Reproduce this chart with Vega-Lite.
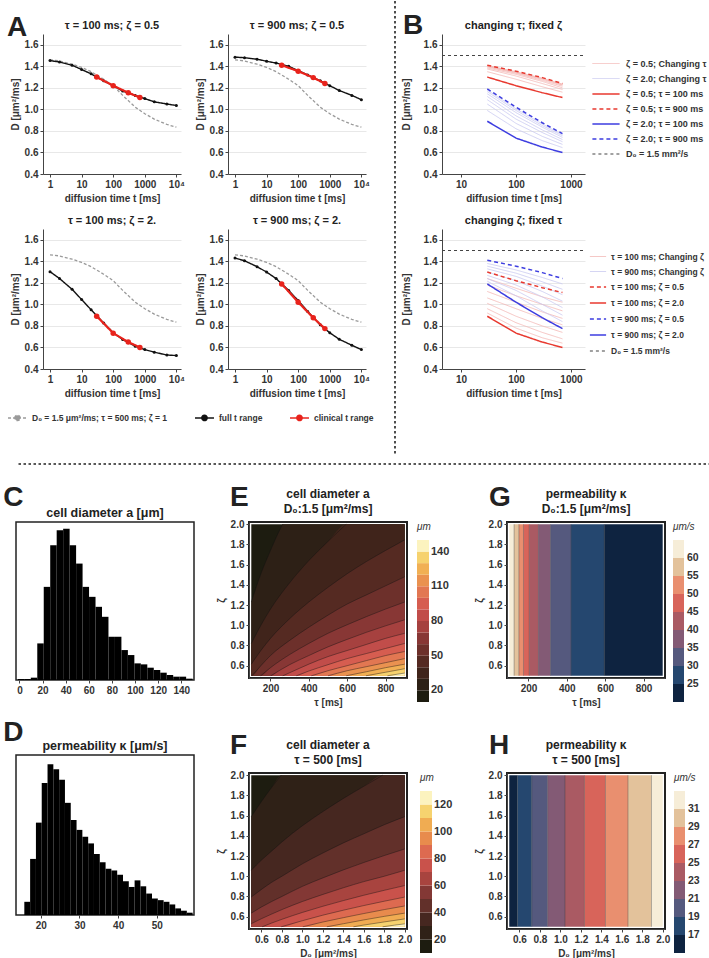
{
  "$schema": "https://vega.github.io/schema/vega-lite/v6.json",
  "background": "white",
  "padding": {"left": 3, "top": 0, "right": 0, "bottom": 0},
  "config": {
    "font": "Liberation Sans",
    "view": {"stroke": null},
    "axis": {"labelFont": "Liberation Sans", "labelFontWeight": "bold", "labelFontSize": 10, "labelColor": "#333", "titleFont": "Liberation Sans", "titleFontWeight": "bold", "titleFontSize": 10, "titleColor": "#333", "domainColor": "#444", "tickColor": "#444", "tickSize": 3, "labelPadding": 2, "titlePadding": 4, "grid": false, "labelFlush": false, "labelOverlap": false},
    "title": {"font": "Liberation Sans", "fontSize": 11, "fontWeight": "bold", "color": "#222", "offset": 3},
    "legend": {"labelFont": "Liberation Sans", "labelFontWeight": "bold", "labelColor": "#333", "titleFont": "Liberation Sans", "titleColor": "#333"}
  },
  "datasets": {
    "one": [{}],
    "aRef": [
      {"s": "D₀ = 1.5 μm²/ms; τ = 500 ms; ζ = 1", "t": 1, "D": 1.46}, {"s": "D₀ = 1.5 μm²/ms; τ = 500 ms; ζ = 1", "t": 2, "D": 1.45},
      {"s": "D₀ = 1.5 μm²/ms; τ = 500 ms; ζ = 1", "t": 5, "D": 1.42}, {"s": "D₀ = 1.5 μm²/ms; τ = 500 ms; ζ = 1", "t": 10, "D": 1.39},
      {"s": "D₀ = 1.5 μm²/ms; τ = 500 ms; ζ = 1", "t": 20, "D": 1.35}, {"s": "D₀ = 1.5 μm²/ms; τ = 500 ms; ζ = 1", "t": 50, "D": 1.28},
      {"s": "D₀ = 1.5 μm²/ms; τ = 500 ms; ζ = 1", "t": 100, "D": 1.22}, {"s": "D₀ = 1.5 μm²/ms; τ = 500 ms; ζ = 1", "t": 200, "D": 1.13},
      {"s": "D₀ = 1.5 μm²/ms; τ = 500 ms; ζ = 1", "t": 500, "D": 1.02}, {"s": "D₀ = 1.5 μm²/ms; τ = 500 ms; ζ = 1", "t": 1000, "D": 0.96},
      {"s": "D₀ = 1.5 μm²/ms; τ = 500 ms; ζ = 1", "t": 2000, "D": 0.91}, {"s": "D₀ = 1.5 μm²/ms; τ = 500 ms; ζ = 1", "t": 5000, "D": 0.86},
      {"s": "D₀ = 1.5 μm²/ms; τ = 500 ms; ζ = 1", "t": 10000, "D": 0.835}
    ],
    "aCurves": [
      {"p": "A1", "s": "full t range", "t": 1, "D": 1.453}, {"p": "A1", "s": "full t range", "t": 2, "D": 1.44}, {"p": "A1", "s": "full t range", "t": 5, "D": 1.41}, {"p": "A1", "s": "full t range", "t": 10, "D": 1.37}, {"p": "A1", "s": "full t range", "t": 20, "D": 1.33}, {"p": "A1", "s": "full t range", "t": 50, "D": 1.265}, {"p": "A1", "s": "full t range", "t": 100, "D": 1.22}, {"p": "A1", "s": "full t range", "t": 200, "D": 1.17}, {"p": "A1", "s": "full t range", "t": 500, "D": 1.13}, {"p": "A1", "s": "full t range", "t": 1000, "D": 1.1}, {"p": "A1", "s": "full t range", "t": 2000, "D": 1.07}, {"p": "A1", "s": "full t range", "t": 5000, "D": 1.05}, {"p": "A1", "s": "full t range", "t": 10000, "D": 1.036},
      {"p": "A1", "s": "clinical t range", "t": 30, "D": 1.3}, {"p": "A1", "s": "clinical t range", "t": 100, "D": 1.22}, {"p": "A1", "s": "clinical t range", "t": 300, "D": 1.155}, {"p": "A1", "s": "clinical t range", "t": 700, "D": 1.11},
      {"p": "A2", "s": "full t range", "t": 1, "D": 1.485}, {"p": "A2", "s": "full t range", "t": 2, "D": 1.48}, {"p": "A2", "s": "full t range", "t": 5, "D": 1.466}, {"p": "A2", "s": "full t range", "t": 10, "D": 1.447}, {"p": "A2", "s": "full t range", "t": 20, "D": 1.43}, {"p": "A2", "s": "full t range", "t": 50, "D": 1.4}, {"p": "A2", "s": "full t range", "t": 100, "D": 1.36}, {"p": "A2", "s": "full t range", "t": 200, "D": 1.32}, {"p": "A2", "s": "full t range", "t": 500, "D": 1.265}, {"p": "A2", "s": "full t range", "t": 1000, "D": 1.22}, {"p": "A2", "s": "full t range", "t": 2000, "D": 1.175}, {"p": "A2", "s": "full t range", "t": 5000, "D": 1.13}, {"p": "A2", "s": "full t range", "t": 10000, "D": 1.09},
      {"p": "A2", "s": "clinical t range", "t": 30, "D": 1.41}, {"p": "A2", "s": "clinical t range", "t": 100, "D": 1.355}, {"p": "A2", "s": "clinical t range", "t": 300, "D": 1.295}, {"p": "A2", "s": "clinical t range", "t": 700, "D": 1.24},
      {"p": "A3", "s": "full t range", "t": 1, "D": 1.304}, {"p": "A3", "s": "full t range", "t": 2, "D": 1.24}, {"p": "A3", "s": "full t range", "t": 5, "D": 1.14}, {"p": "A3", "s": "full t range", "t": 10, "D": 1.045}, {"p": "A3", "s": "full t range", "t": 20, "D": 0.95}, {"p": "A3", "s": "full t range", "t": 50, "D": 0.827}, {"p": "A3", "s": "full t range", "t": 100, "D": 0.737}, {"p": "A3", "s": "full t range", "t": 200, "D": 0.674}, {"p": "A3", "s": "full t range", "t": 500, "D": 0.612}, {"p": "A3", "s": "full t range", "t": 1000, "D": 0.58}, {"p": "A3", "s": "full t range", "t": 2000, "D": 0.556}, {"p": "A3", "s": "full t range", "t": 5000, "D": 0.53}, {"p": "A3", "s": "full t range", "t": 10000, "D": 0.525},
      {"p": "A3", "s": "clinical t range", "t": 30, "D": 0.89}, {"p": "A3", "s": "clinical t range", "t": 100, "D": 0.733}, {"p": "A3", "s": "clinical t range", "t": 300, "D": 0.65}, {"p": "A3", "s": "clinical t range", "t": 700, "D": 0.6},
      {"p": "A4", "s": "full t range", "t": 1, "D": 1.43}, {"p": "A4", "s": "full t range", "t": 2, "D": 1.405}, {"p": "A4", "s": "full t range", "t": 5, "D": 1.35}, {"p": "A4", "s": "full t range", "t": 10, "D": 1.3}, {"p": "A4", "s": "full t range", "t": 20, "D": 1.24}, {"p": "A4", "s": "full t range", "t": 50, "D": 1.13}, {"p": "A4", "s": "full t range", "t": 100, "D": 1.035}, {"p": "A4", "s": "full t range", "t": 200, "D": 0.934}, {"p": "A4", "s": "full t range", "t": 500, "D": 0.81}, {"p": "A4", "s": "full t range", "t": 1000, "D": 0.736}, {"p": "A4", "s": "full t range", "t": 2000, "D": 0.676}, {"p": "A4", "s": "full t range", "t": 5000, "D": 0.62}, {"p": "A4", "s": "full t range", "t": 10000, "D": 0.58},
      {"p": "A4", "s": "clinical t range", "t": 30, "D": 1.19}, {"p": "A4", "s": "clinical t range", "t": 100, "D": 1.02}, {"p": "A4", "s": "clinical t range", "t": 300, "D": 0.876}, {"p": "A4", "s": "clinical t range", "t": 700, "D": 0.775}
    ],
    "bLines": [
      {"p": "B1", "s": "ζ = 0.5; Changing τ", "id": "200", "t": 30, "D": 1.35}, {"p": "B1", "s": "ζ = 0.5; Changing τ", "id": "200", "t": 100, "D": 1.28}, {"p": "B1", "s": "ζ = 0.5; Changing τ", "id": "200", "t": 300, "D": 1.21}, {"p": "B1", "s": "ζ = 0.5; Changing τ", "id": "200", "t": 700, "D": 1.16},
      {"p": "B1", "s": "ζ = 0.5; Changing τ", "id": "300", "t": 30, "D": 1.375}, {"p": "B1", "s": "ζ = 0.5; Changing τ", "id": "300", "t": 100, "D": 1.31}, {"p": "B1", "s": "ζ = 0.5; Changing τ", "id": "300", "t": 300, "D": 1.24}, {"p": "B1", "s": "ζ = 0.5; Changing τ", "id": "300", "t": 700, "D": 1.185},
      {"p": "B1", "s": "ζ = 0.5; Changing τ", "id": "400", "t": 30, "D": 1.385}, {"p": "B1", "s": "ζ = 0.5; Changing τ", "id": "400", "t": 100, "D": 1.325}, {"p": "B1", "s": "ζ = 0.5; Changing τ", "id": "400", "t": 300, "D": 1.26}, {"p": "B1", "s": "ζ = 0.5; Changing τ", "id": "400", "t": 700, "D": 1.2},
      {"p": "B1", "s": "ζ = 0.5; Changing τ", "id": "500", "t": 30, "D": 1.395}, {"p": "B1", "s": "ζ = 0.5; Changing τ", "id": "500", "t": 100, "D": 1.335}, {"p": "B1", "s": "ζ = 0.5; Changing τ", "id": "500", "t": 300, "D": 1.27}, {"p": "B1", "s": "ζ = 0.5; Changing τ", "id": "500", "t": 700, "D": 1.215},
      {"p": "B1", "s": "ζ = 0.5; Changing τ", "id": "600", "t": 30, "D": 1.4}, {"p": "B1", "s": "ζ = 0.5; Changing τ", "id": "600", "t": 100, "D": 1.34}, {"p": "B1", "s": "ζ = 0.5; Changing τ", "id": "600", "t": 300, "D": 1.28}, {"p": "B1", "s": "ζ = 0.5; Changing τ", "id": "600", "t": 700, "D": 1.225},
      {"p": "B1", "s": "ζ = 0.5; Changing τ", "id": "700", "t": 30, "D": 1.405}, {"p": "B1", "s": "ζ = 0.5; Changing τ", "id": "700", "t": 100, "D": 1.345}, {"p": "B1", "s": "ζ = 0.5; Changing τ", "id": "700", "t": 300, "D": 1.285}, {"p": "B1", "s": "ζ = 0.5; Changing τ", "id": "700", "t": 700, "D": 1.23},
      {"p": "B1", "s": "ζ = 0.5; Changing τ", "id": "800", "t": 30, "D": 1.408}, {"p": "B1", "s": "ζ = 0.5; Changing τ", "id": "800", "t": 100, "D": 1.35}, {"p": "B1", "s": "ζ = 0.5; Changing τ", "id": "800", "t": 300, "D": 1.29}, {"p": "B1", "s": "ζ = 0.5; Changing τ", "id": "800", "t": 700, "D": 1.235},
      {"p": "B1", "s": "ζ = 2.0; Changing τ", "id": "200", "t": 30, "D": 0.99}, {"p": "B1", "s": "ζ = 2.0; Changing τ", "id": "200", "t": 100, "D": 0.82}, {"p": "B1", "s": "ζ = 2.0; Changing τ", "id": "200", "t": 300, "D": 0.71}, {"p": "B1", "s": "ζ = 2.0; Changing τ", "id": "200", "t": 700, "D": 0.645},
      {"p": "B1", "s": "ζ = 2.0; Changing τ", "id": "300", "t": 30, "D": 1.05}, {"p": "B1", "s": "ζ = 2.0; Changing τ", "id": "300", "t": 100, "D": 0.87}, {"p": "B1", "s": "ζ = 2.0; Changing τ", "id": "300", "t": 300, "D": 0.75}, {"p": "B1", "s": "ζ = 2.0; Changing τ", "id": "300", "t": 700, "D": 0.675},
      {"p": "B1", "s": "ζ = 2.0; Changing τ", "id": "400", "t": 30, "D": 1.09}, {"p": "B1", "s": "ζ = 2.0; Changing τ", "id": "400", "t": 100, "D": 0.91}, {"p": "B1", "s": "ζ = 2.0; Changing τ", "id": "400", "t": 300, "D": 0.785}, {"p": "B1", "s": "ζ = 2.0; Changing τ", "id": "400", "t": 700, "D": 0.7},
      {"p": "B1", "s": "ζ = 2.0; Changing τ", "id": "500", "t": 30, "D": 1.12}, {"p": "B1", "s": "ζ = 2.0; Changing τ", "id": "500", "t": 100, "D": 0.94}, {"p": "B1", "s": "ζ = 2.0; Changing τ", "id": "500", "t": 300, "D": 0.81}, {"p": "B1", "s": "ζ = 2.0; Changing τ", "id": "500", "t": 700, "D": 0.72},
      {"p": "B1", "s": "ζ = 2.0; Changing τ", "id": "600", "t": 30, "D": 1.145}, {"p": "B1", "s": "ζ = 2.0; Changing τ", "id": "600", "t": 100, "D": 0.97}, {"p": "B1", "s": "ζ = 2.0; Changing τ", "id": "600", "t": 300, "D": 0.835}, {"p": "B1", "s": "ζ = 2.0; Changing τ", "id": "600", "t": 700, "D": 0.74},
      {"p": "B1", "s": "ζ = 2.0; Changing τ", "id": "700", "t": 30, "D": 1.165}, {"p": "B1", "s": "ζ = 2.0; Changing τ", "id": "700", "t": 100, "D": 0.99}, {"p": "B1", "s": "ζ = 2.0; Changing τ", "id": "700", "t": 300, "D": 0.85}, {"p": "B1", "s": "ζ = 2.0; Changing τ", "id": "700", "t": 700, "D": 0.755},
      {"p": "B1", "s": "ζ = 2.0; Changing τ", "id": "800", "t": 30, "D": 1.18}, {"p": "B1", "s": "ζ = 2.0; Changing τ", "id": "800", "t": 100, "D": 1.005}, {"p": "B1", "s": "ζ = 2.0; Changing τ", "id": "800", "t": 300, "D": 0.865}, {"p": "B1", "s": "ζ = 2.0; Changing τ", "id": "800", "t": 700, "D": 0.765},
      {"p": "B1", "s": "ζ = 0.5; τ = 100 ms", "id": "m", "t": 30, "D": 1.3}, {"p": "B1", "s": "ζ = 0.5; τ = 100 ms", "id": "m", "t": 100, "D": 1.22}, {"p": "B1", "s": "ζ = 0.5; τ = 100 ms", "id": "m", "t": 300, "D": 1.155}, {"p": "B1", "s": "ζ = 0.5; τ = 100 ms", "id": "m", "t": 700, "D": 1.11},
      {"p": "B1", "s": "ζ = 0.5; τ = 900 ms", "id": "m", "t": 30, "D": 1.41}, {"p": "B1", "s": "ζ = 0.5; τ = 900 ms", "id": "m", "t": 100, "D": 1.355}, {"p": "B1", "s": "ζ = 0.5; τ = 900 ms", "id": "m", "t": 300, "D": 1.295}, {"p": "B1", "s": "ζ = 0.5; τ = 900 ms", "id": "m", "t": 700, "D": 1.24},
      {"p": "B1", "s": "ζ = 2.0; τ = 100 ms", "id": "m", "t": 30, "D": 0.89}, {"p": "B1", "s": "ζ = 2.0; τ = 100 ms", "id": "m", "t": 100, "D": 0.733}, {"p": "B1", "s": "ζ = 2.0; τ = 100 ms", "id": "m", "t": 300, "D": 0.65}, {"p": "B1", "s": "ζ = 2.0; τ = 100 ms", "id": "m", "t": 700, "D": 0.6},
      {"p": "B1", "s": "ζ = 2.0; τ = 900 ms", "id": "m", "t": 30, "D": 1.19}, {"p": "B1", "s": "ζ = 2.0; τ = 900 ms", "id": "m", "t": 100, "D": 1.02}, {"p": "B1", "s": "ζ = 2.0; τ = 900 ms", "id": "m", "t": 300, "D": 0.876}, {"p": "B1", "s": "ζ = 2.0; τ = 900 ms", "id": "m", "t": 700, "D": 0.775},
      {"p": "B1", "s": "D₀ = 1.5 mm²/s", "id": "d", "t": 4.5, "D": 1.5}, {"p": "B1", "s": "D₀ = 1.5 mm²/s", "id": "d", "t": 1800, "D": 1.5},
      {"p": "B2", "s": "τ = 100 ms; Changing ζ", "id": "1", "t": 30, "D": 1.24}, {"p": "B2", "s": "τ = 100 ms; Changing ζ", "id": "1", "t": 100, "D": 1.15}, {"p": "B2", "s": "τ = 100 ms; Changing ζ", "id": "1", "t": 300, "D": 1.07}, {"p": "B2", "s": "τ = 100 ms; Changing ζ", "id": "1", "t": 700, "D": 1.02},
      {"p": "B2", "s": "τ = 100 ms; Changing ζ", "id": "2", "t": 30, "D": 1.18}, {"p": "B2", "s": "τ = 100 ms; Changing ζ", "id": "2", "t": 100, "D": 1.08}, {"p": "B2", "s": "τ = 100 ms; Changing ζ", "id": "2", "t": 300, "D": 1.0}, {"p": "B2", "s": "τ = 100 ms; Changing ζ", "id": "2", "t": 700, "D": 0.94},
      {"p": "B2", "s": "τ = 100 ms; Changing ζ", "id": "3", "t": 30, "D": 1.12}, {"p": "B2", "s": "τ = 100 ms; Changing ζ", "id": "3", "t": 100, "D": 1.02}, {"p": "B2", "s": "τ = 100 ms; Changing ζ", "id": "3", "t": 300, "D": 0.93}, {"p": "B2", "s": "τ = 100 ms; Changing ζ", "id": "3", "t": 700, "D": 0.87},
      {"p": "B2", "s": "τ = 100 ms; Changing ζ", "id": "4", "t": 30, "D": 1.06}, {"p": "B2", "s": "τ = 100 ms; Changing ζ", "id": "4", "t": 100, "D": 0.96}, {"p": "B2", "s": "τ = 100 ms; Changing ζ", "id": "4", "t": 300, "D": 0.87}, {"p": "B2", "s": "τ = 100 ms; Changing ζ", "id": "4", "t": 700, "D": 0.81},
      {"p": "B2", "s": "τ = 100 ms; Changing ζ", "id": "5", "t": 30, "D": 1.01}, {"p": "B2", "s": "τ = 100 ms; Changing ζ", "id": "5", "t": 100, "D": 0.89}, {"p": "B2", "s": "τ = 100 ms; Changing ζ", "id": "5", "t": 300, "D": 0.8}, {"p": "B2", "s": "τ = 100 ms; Changing ζ", "id": "5", "t": 700, "D": 0.74},
      {"p": "B2", "s": "τ = 100 ms; Changing ζ", "id": "6", "t": 30, "D": 0.96}, {"p": "B2", "s": "τ = 100 ms; Changing ζ", "id": "6", "t": 100, "D": 0.83}, {"p": "B2", "s": "τ = 100 ms; Changing ζ", "id": "6", "t": 300, "D": 0.74}, {"p": "B2", "s": "τ = 100 ms; Changing ζ", "id": "6", "t": 700, "D": 0.68},
      {"p": "B2", "s": "τ = 100 ms; Changing ζ", "id": "7", "t": 30, "D": 0.92}, {"p": "B2", "s": "τ = 100 ms; Changing ζ", "id": "7", "t": 100, "D": 0.78}, {"p": "B2", "s": "τ = 100 ms; Changing ζ", "id": "7", "t": 300, "D": 0.69}, {"p": "B2", "s": "τ = 100 ms; Changing ζ", "id": "7", "t": 700, "D": 0.64},
      {"p": "B2", "s": "τ = 900 ms; Changing ζ", "id": "1", "t": 30, "D": 1.38}, {"p": "B2", "s": "τ = 900 ms; Changing ζ", "id": "1", "t": 100, "D": 1.32}, {"p": "B2", "s": "τ = 900 ms; Changing ζ", "id": "1", "t": 300, "D": 1.25}, {"p": "B2", "s": "τ = 900 ms; Changing ζ", "id": "1", "t": 700, "D": 1.19},
      {"p": "B2", "s": "τ = 900 ms; Changing ζ", "id": "2", "t": 30, "D": 1.355}, {"p": "B2", "s": "τ = 900 ms; Changing ζ", "id": "2", "t": 100, "D": 1.29}, {"p": "B2", "s": "τ = 900 ms; Changing ζ", "id": "2", "t": 300, "D": 1.21}, {"p": "B2", "s": "τ = 900 ms; Changing ζ", "id": "2", "t": 700, "D": 1.14},
      {"p": "B2", "s": "τ = 900 ms; Changing ζ", "id": "3", "t": 30, "D": 1.33}, {"p": "B2", "s": "τ = 900 ms; Changing ζ", "id": "3", "t": 100, "D": 1.26}, {"p": "B2", "s": "τ = 900 ms; Changing ζ", "id": "3", "t": 300, "D": 1.17}, {"p": "B2", "s": "τ = 900 ms; Changing ζ", "id": "3", "t": 700, "D": 1.09},
      {"p": "B2", "s": "τ = 900 ms; Changing ζ", "id": "4", "t": 30, "D": 1.3}, {"p": "B2", "s": "τ = 900 ms; Changing ζ", "id": "4", "t": 100, "D": 1.22}, {"p": "B2", "s": "τ = 900 ms; Changing ζ", "id": "4", "t": 300, "D": 1.12}, {"p": "B2", "s": "τ = 900 ms; Changing ζ", "id": "4", "t": 700, "D": 1.03},
      {"p": "B2", "s": "τ = 900 ms; Changing ζ", "id": "5", "t": 30, "D": 1.27}, {"p": "B2", "s": "τ = 900 ms; Changing ζ", "id": "5", "t": 100, "D": 1.18}, {"p": "B2", "s": "τ = 900 ms; Changing ζ", "id": "5", "t": 300, "D": 1.07}, {"p": "B2", "s": "τ = 900 ms; Changing ζ", "id": "5", "t": 700, "D": 0.97},
      {"p": "B2", "s": "τ = 900 ms; Changing ζ", "id": "6", "t": 30, "D": 1.24}, {"p": "B2", "s": "τ = 900 ms; Changing ζ", "id": "6", "t": 100, "D": 1.13}, {"p": "B2", "s": "τ = 900 ms; Changing ζ", "id": "6", "t": 300, "D": 1.0}, {"p": "B2", "s": "τ = 900 ms; Changing ζ", "id": "6", "t": 700, "D": 0.9},
      {"p": "B2", "s": "τ = 900 ms; Changing ζ", "id": "7", "t": 30, "D": 1.215}, {"p": "B2", "s": "τ = 900 ms; Changing ζ", "id": "7", "t": 100, "D": 1.08}, {"p": "B2", "s": "τ = 900 ms; Changing ζ", "id": "7", "t": 300, "D": 0.94}, {"p": "B2", "s": "τ = 900 ms; Changing ζ", "id": "7", "t": 700, "D": 0.84},
      {"p": "B2", "s": "τ = 100 ms;  ζ = 0.5", "id": "m", "t": 30, "D": 1.3}, {"p": "B2", "s": "τ = 100 ms;  ζ = 0.5", "id": "m", "t": 100, "D": 1.22}, {"p": "B2", "s": "τ = 100 ms;  ζ = 0.5", "id": "m", "t": 300, "D": 1.155}, {"p": "B2", "s": "τ = 100 ms;  ζ = 0.5", "id": "m", "t": 700, "D": 1.11},
      {"p": "B2", "s": "τ = 100 ms;  ζ = 2.0", "id": "m", "t": 30, "D": 0.89}, {"p": "B2", "s": "τ = 100 ms;  ζ = 2.0", "id": "m", "t": 100, "D": 0.733}, {"p": "B2", "s": "τ = 100 ms;  ζ = 2.0", "id": "m", "t": 300, "D": 0.65}, {"p": "B2", "s": "τ = 100 ms;  ζ = 2.0", "id": "m", "t": 700, "D": 0.6},
      {"p": "B2", "s": "τ = 900 ms;  ζ = 0.5", "id": "m", "t": 30, "D": 1.41}, {"p": "B2", "s": "τ = 900 ms;  ζ = 0.5", "id": "m", "t": 100, "D": 1.355}, {"p": "B2", "s": "τ = 900 ms;  ζ = 0.5", "id": "m", "t": 300, "D": 1.295}, {"p": "B2", "s": "τ = 900 ms;  ζ = 0.5", "id": "m", "t": 700, "D": 1.24},
      {"p": "B2", "s": "τ = 900 ms;  ζ = 2.0", "id": "m", "t": 30, "D": 1.19}, {"p": "B2", "s": "τ = 900 ms;  ζ = 2.0", "id": "m", "t": 100, "D": 1.02}, {"p": "B2", "s": "τ = 900 ms;  ζ = 2.0", "id": "m", "t": 300, "D": 0.876}, {"p": "B2", "s": "τ = 900 ms;  ζ = 2.0", "id": "m", "t": 700, "D": 0.775},
      {"p": "B2", "s": "D₀ = 1.5 mm²/s", "id": "d", "t": 4.5, "D": 1.5}, {"p": "B2", "s": "D₀ = 1.5 mm²/s", "id": "d", "t": 1800, "D": 1.5}
    ],
    "hC": [
      {"x0": -1.4, "x1": 4.2, "n": 3}, {"x0": 4.2, "x1": 9.8, "n": 3}, {"x0": 9.8, "x1": 15.4, "n": 7}, {"x0": 15.4, "x1": 21, "n": 110}, {"x0": 21, "x1": 26.6, "n": 280}, {"x0": 26.6, "x1": 32.2, "n": 405}, {"x0": 32.2, "x1": 37.8, "n": 450}, {"x0": 37.8, "x1": 43.4, "n": 455}, {"x0": 43.4, "x1": 49, "n": 405}, {"x0": 49, "x1": 54.6, "n": 350}, {"x0": 54.6, "x1": 60.2, "n": 280}, {"x0": 60.2, "x1": 65.8, "n": 250}, {"x0": 65.8, "x1": 71.4, "n": 220}, {"x0": 71.4, "x1": 77, "n": 190}, {"x0": 77, "x1": 82.6, "n": 130}, {"x0": 82.6, "x1": 88.2, "n": 130}, {"x0": 88.2, "x1": 93.8, "n": 90}, {"x0": 93.8, "x1": 99.4, "n": 75}, {"x0": 99.4, "x1": 105, "n": 50}, {"x0": 105, "x1": 110.6, "n": 47}, {"x0": 110.6, "x1": 116.2, "n": 37}, {"x0": 116.2, "x1": 121.8, "n": 30}, {"x0": 121.8, "x1": 127.4, "n": 22}, {"x0": 127.4, "x1": 133, "n": 15}, {"x0": 133, "x1": 138.6, "n": 10}, {"x0": 138.6, "x1": 144.2, "n": 10}, {"x0": 144.2, "x1": 149.8, "n": 4}
    ],
    "hD": [
      {"x0": 15.75, "x1": 17.25, "n": 40}, {"x0": 17.25, "x1": 18.75, "n": 170}, {"x0": 18.75, "x1": 20.25, "n": 280}, {"x0": 20.25, "x1": 21.75, "n": 400}, {"x0": 21.75, "x1": 23.25, "n": 457}, {"x0": 23.25, "x1": 24.75, "n": 442}, {"x0": 24.75, "x1": 26.25, "n": 410}, {"x0": 26.25, "x1": 27.75, "n": 340}, {"x0": 27.75, "x1": 29.25, "n": 288}, {"x0": 29.25, "x1": 30.75, "n": 258}, {"x0": 30.75, "x1": 32.25, "n": 237}, {"x0": 32.25, "x1": 33.75, "n": 217}, {"x0": 33.75, "x1": 35.25, "n": 185}, {"x0": 35.25, "x1": 36.75, "n": 160}, {"x0": 36.75, "x1": 38.25, "n": 140}, {"x0": 38.25, "x1": 39.75, "n": 135}, {"x0": 39.75, "x1": 41.25, "n": 122}, {"x0": 41.25, "x1": 42.75, "n": 102}, {"x0": 42.75, "x1": 44.25, "n": 85}, {"x0": 44.25, "x1": 45.75, "n": 105}, {"x0": 45.75, "x1": 47.25, "n": 87}, {"x0": 47.25, "x1": 48.75, "n": 65}, {"x0": 48.75, "x1": 50.25, "n": 50}, {"x0": 50.25, "x1": 51.75, "n": 45}, {"x0": 51.75, "x1": 53.25, "n": 40}, {"x0": 53.25, "x1": 54.75, "n": 32}, {"x0": 54.75, "x1": 56.25, "n": 20}, {"x0": 56.25, "x1": 57.75, "n": 13}, {"x0": 57.75, "x1": 59.25, "n": 7}
    ],
    "cE": [
      {"lvl": 15, "x": 100, "z": 2.0, "k": "p"}, {"lvl": 15, "x": 900, "z": 2.0, "k": "p"},
      {"lvl": 25, "x": 100, "z": 1.23, "k": "c"}, {"lvl": 25, "x": 150, "z": 1.51, "k": "c"}, {"lvl": 25, "x": 200, "z": 1.74, "k": "c"}, {"lvl": 25, "x": 250, "z": 1.95, "k": "c"}, {"lvl": 25, "x": 264, "z": 2.0, "k": "c"}, {"lvl": 25, "x": 900, "z": 2.0, "k": "p"},
      {"lvl": 35, "x": 100, "z": 0.82, "k": "c"}, {"lvl": 35, "x": 150, "z": 1.0, "k": "c"}, {"lvl": 35, "x": 200, "z": 1.16, "k": "c"}, {"lvl": 35, "x": 300, "z": 1.42, "k": "c"}, {"lvl": 35, "x": 400, "z": 1.64, "k": "c"}, {"lvl": 35, "x": 500, "z": 1.83, "k": "c"}, {"lvl": 35, "x": 595, "z": 2.0, "k": "c"}, {"lvl": 35, "x": 900, "z": 2.0, "k": "p"},
      {"lvl": 45, "x": 100, "z": 0.615, "k": "c"}, {"lvl": 45, "x": 150, "z": 0.75, "k": "c"}, {"lvl": 45, "x": 200, "z": 0.87, "k": "c"}, {"lvl": 45, "x": 300, "z": 1.065, "k": "c"}, {"lvl": 45, "x": 400, "z": 1.23, "k": "c"}, {"lvl": 45, "x": 500, "z": 1.375, "k": "c"}, {"lvl": 45, "x": 600, "z": 1.51, "k": "c"}, {"lvl": 45, "x": 700, "z": 1.63, "k": "c"}, {"lvl": 45, "x": 800, "z": 1.74, "k": "c"}, {"lvl": 45, "x": 900, "z": 1.845, "k": "c"},
      {"lvl": 55, "x": 100, "z": 0.5, "k": "p"}, {"lvl": 55, "x": 103, "z": 0.5, "k": "c"}, {"lvl": 55, "x": 150, "z": 0.6, "k": "c"}, {"lvl": 55, "x": 200, "z": 0.7, "k": "c"}, {"lvl": 55, "x": 300, "z": 0.85, "k": "c"}, {"lvl": 55, "x": 400, "z": 0.98, "k": "c"}, {"lvl": 55, "x": 500, "z": 1.1, "k": "c"}, {"lvl": 55, "x": 600, "z": 1.21, "k": "c"}, {"lvl": 55, "x": 700, "z": 1.3, "k": "c"}, {"lvl": 55, "x": 800, "z": 1.39, "k": "c"}, {"lvl": 55, "x": 900, "z": 1.48, "k": "c"},
      {"lvl": 65, "x": 100, "z": 0.5, "k": "p"}, {"lvl": 65, "x": 149, "z": 0.5, "k": "c"}, {"lvl": 65, "x": 200, "z": 0.58, "k": "c"}, {"lvl": 65, "x": 300, "z": 0.71, "k": "c"}, {"lvl": 65, "x": 400, "z": 0.82, "k": "c"}, {"lvl": 65, "x": 500, "z": 0.92, "k": "c"}, {"lvl": 65, "x": 600, "z": 1.005, "k": "c"}, {"lvl": 65, "x": 700, "z": 1.085, "k": "c"}, {"lvl": 65, "x": 800, "z": 1.16, "k": "c"}, {"lvl": 65, "x": 900, "z": 1.23, "k": "c"},
      {"lvl": 75, "x": 100, "z": 0.5, "k": "p"}, {"lvl": 75, "x": 202, "z": 0.5, "k": "c"}, {"lvl": 75, "x": 250, "z": 0.556, "k": "c"}, {"lvl": 75, "x": 300, "z": 0.61, "k": "c"}, {"lvl": 75, "x": 400, "z": 0.7, "k": "c"}, {"lvl": 75, "x": 500, "z": 0.786, "k": "c"}, {"lvl": 75, "x": 600, "z": 0.86, "k": "c"}, {"lvl": 75, "x": 700, "z": 0.93, "k": "c"}, {"lvl": 75, "x": 800, "z": 0.994, "k": "c"}, {"lvl": 75, "x": 900, "z": 1.054, "k": "c"},
      {"lvl": 85, "x": 100, "z": 0.5, "k": "p"}, {"lvl": 85, "x": 264, "z": 0.5, "k": "c"}, {"lvl": 85, "x": 300, "z": 0.53, "k": "c"}, {"lvl": 85, "x": 400, "z": 0.615, "k": "c"}, {"lvl": 85, "x": 500, "z": 0.69, "k": "c"}, {"lvl": 85, "x": 600, "z": 0.75, "k": "c"}, {"lvl": 85, "x": 700, "z": 0.81, "k": "c"}, {"lvl": 85, "x": 800, "z": 0.87, "k": "c"}, {"lvl": 85, "x": 900, "z": 0.92, "k": "c"},
      {"lvl": 95, "x": 100, "z": 0.5, "k": "p"}, {"lvl": 95, "x": 335, "z": 0.5, "k": "c"}, {"lvl": 95, "x": 400, "z": 0.547, "k": "c"}, {"lvl": 95, "x": 500, "z": 0.61, "k": "c"}, {"lvl": 95, "x": 600, "z": 0.67, "k": "c"}, {"lvl": 95, "x": 700, "z": 0.72, "k": "c"}, {"lvl": 95, "x": 800, "z": 0.77, "k": "c"}, {"lvl": 95, "x": 900, "z": 0.82, "k": "c"},
      {"lvl": 105, "x": 100, "z": 0.5, "k": "p"}, {"lvl": 105, "x": 413, "z": 0.5, "k": "c"}, {"lvl": 105, "x": 500, "z": 0.55, "k": "c"}, {"lvl": 105, "x": 600, "z": 0.6, "k": "c"}, {"lvl": 105, "x": 700, "z": 0.65, "k": "c"}, {"lvl": 105, "x": 800, "z": 0.7, "k": "c"}, {"lvl": 105, "x": 900, "z": 0.74, "k": "c"},
      {"lvl": 115, "x": 100, "z": 0.5, "k": "p"}, {"lvl": 115, "x": 500, "z": 0.5, "k": "c"}, {"lvl": 115, "x": 600, "z": 0.55, "k": "c"}, {"lvl": 115, "x": 700, "z": 0.59, "k": "c"}, {"lvl": 115, "x": 800, "z": 0.63, "k": "c"}, {"lvl": 115, "x": 900, "z": 0.67, "k": "c"},
      {"lvl": 125, "x": 100, "z": 0.5, "k": "p"}, {"lvl": 125, "x": 595, "z": 0.5, "k": "c"}, {"lvl": 125, "x": 700, "z": 0.54, "k": "c"}, {"lvl": 125, "x": 800, "z": 0.58, "k": "c"}, {"lvl": 125, "x": 900, "z": 0.615, "k": "c"},
      {"lvl": 135, "x": 100, "z": 0.5, "k": "p"}, {"lvl": 135, "x": 698, "z": 0.5, "k": "c"}, {"lvl": 135, "x": 800, "z": 0.535, "k": "c"}, {"lvl": 135, "x": 900, "z": 0.57, "k": "c"},
      {"lvl": 145, "x": 100, "z": 0.5, "k": "p"}, {"lvl": 145, "x": 810, "z": 0.5, "k": "c"}, {"lvl": 145, "x": 860, "z": 0.515, "k": "c"}, {"lvl": 145, "x": 900, "z": 0.527, "k": "c"}
    ],
    "cF": [
      {"lvl": 15, "x": 0.5, "z": 2.0, "k": "p"}, {"lvl": 15, "x": 2.0, "z": 2.0, "k": "p"},
      {"lvl": 25, "x": 0.5, "z": 1.59, "k": "c"}, {"lvl": 25, "x": 0.6, "z": 1.74, "k": "c"}, {"lvl": 25, "x": 0.7, "z": 1.88, "k": "c"}, {"lvl": 25, "x": 0.793, "z": 2.0, "k": "c"}, {"lvl": 25, "x": 2.0, "z": 2.0, "k": "p"},
      {"lvl": 35, "x": 0.5, "z": 1.06, "k": "c"}, {"lvl": 35, "x": 0.6, "z": 1.16, "k": "c"}, {"lvl": 35, "x": 0.7, "z": 1.25, "k": "c"}, {"lvl": 35, "x": 0.8, "z": 1.34, "k": "c"}, {"lvl": 35, "x": 1.0, "z": 1.5, "k": "c"}, {"lvl": 35, "x": 1.2, "z": 1.64, "k": "c"}, {"lvl": 35, "x": 1.4, "z": 1.77, "k": "c"}, {"lvl": 35, "x": 1.6, "z": 1.89, "k": "c"}, {"lvl": 35, "x": 1.784, "z": 2.0, "k": "c"}, {"lvl": 35, "x": 2.0, "z": 2.0, "k": "p"},
      {"lvl": 45, "x": 0.5, "z": 0.794, "k": "c"}, {"lvl": 45, "x": 0.6, "z": 0.87, "k": "c"}, {"lvl": 45, "x": 0.7, "z": 0.94, "k": "c"}, {"lvl": 45, "x": 0.8, "z": 1.0, "k": "c"}, {"lvl": 45, "x": 1.0, "z": 1.123, "k": "c"}, {"lvl": 45, "x": 1.2, "z": 1.23, "k": "c"}, {"lvl": 45, "x": 1.4, "z": 1.33, "k": "c"}, {"lvl": 45, "x": 1.6, "z": 1.42, "k": "c"}, {"lvl": 45, "x": 1.8, "z": 1.51, "k": "c"}, {"lvl": 45, "x": 2.0, "z": 1.59, "k": "c"},
      {"lvl": 55, "x": 0.5, "z": 0.635, "k": "c"}, {"lvl": 55, "x": 0.6, "z": 0.696, "k": "c"}, {"lvl": 55, "x": 0.7, "z": 0.75, "k": "c"}, {"lvl": 55, "x": 0.8, "z": 0.8, "k": "c"}, {"lvl": 55, "x": 1.0, "z": 0.9, "k": "c"}, {"lvl": 55, "x": 1.2, "z": 0.984, "k": "c"}, {"lvl": 55, "x": 1.4, "z": 1.063, "k": "c"}, {"lvl": 55, "x": 1.6, "z": 1.136, "k": "c"}, {"lvl": 55, "x": 1.8, "z": 1.205, "k": "c"}, {"lvl": 55, "x": 2.0, "z": 1.27, "k": "c"},
      {"lvl": 65, "x": 0.5, "z": 0.53, "k": "c"}, {"lvl": 65, "x": 0.6, "z": 0.58, "k": "c"}, {"lvl": 65, "x": 0.7, "z": 0.626, "k": "c"}, {"lvl": 65, "x": 0.8, "z": 0.67, "k": "c"}, {"lvl": 65, "x": 1.0, "z": 0.75, "k": "c"}, {"lvl": 65, "x": 1.2, "z": 0.82, "k": "c"}, {"lvl": 65, "x": 1.4, "z": 0.886, "k": "c"}, {"lvl": 65, "x": 1.6, "z": 0.947, "k": "c"}, {"lvl": 65, "x": 1.8, "z": 1.0, "k": "c"}, {"lvl": 65, "x": 2.0, "z": 1.059, "k": "c"},
      {"lvl": 75, "x": 0.5, "z": 0.5, "k": "p"}, {"lvl": 75, "x": 0.607, "z": 0.5, "k": "c"}, {"lvl": 75, "x": 0.7, "z": 0.537, "k": "c"}, {"lvl": 75, "x": 0.8, "z": 0.574, "k": "c"}, {"lvl": 75, "x": 1.0, "z": 0.642, "k": "c"}, {"lvl": 75, "x": 1.2, "z": 0.703, "k": "c"}, {"lvl": 75, "x": 1.4, "z": 0.759, "k": "c"}, {"lvl": 75, "x": 1.6, "z": 0.812, "k": "c"}, {"lvl": 75, "x": 1.8, "z": 0.861, "k": "c"}, {"lvl": 75, "x": 2.0, "z": 0.908, "k": "c"},
      {"lvl": 85, "x": 0.5, "z": 0.5, "k": "p"}, {"lvl": 85, "x": 0.793, "z": 0.5, "k": "c"}, {"lvl": 85, "x": 1.0, "z": 0.56, "k": "c"}, {"lvl": 85, "x": 1.2, "z": 0.615, "k": "c"}, {"lvl": 85, "x": 1.4, "z": 0.664, "k": "c"}, {"lvl": 85, "x": 1.6, "z": 0.71, "k": "c"}, {"lvl": 85, "x": 1.8, "z": 0.753, "k": "c"}, {"lvl": 85, "x": 2.0, "z": 0.794, "k": "c"},
      {"lvl": 95, "x": 0.5, "z": 0.5, "k": "p"}, {"lvl": 95, "x": 1.004, "z": 0.5, "k": "c"}, {"lvl": 95, "x": 1.2, "z": 0.547, "k": "c"}, {"lvl": 95, "x": 1.4, "z": 0.59, "k": "c"}, {"lvl": 95, "x": 1.6, "z": 0.631, "k": "c"}, {"lvl": 95, "x": 1.8, "z": 0.67, "k": "c"}, {"lvl": 95, "x": 2.0, "z": 0.706, "k": "c"},
      {"lvl": 105, "x": 0.5, "z": 0.5, "k": "p"}, {"lvl": 105, "x": 1.239, "z": 0.5, "k": "c"}, {"lvl": 105, "x": 1.4, "z": 0.53, "k": "c"}, {"lvl": 105, "x": 1.6, "z": 0.568, "k": "c"}, {"lvl": 105, "x": 1.8, "z": 0.603, "k": "c"}, {"lvl": 105, "x": 2.0, "z": 0.635, "k": "c"},
      {"lvl": 115, "x": 0.5, "z": 0.5, "k": "p"}, {"lvl": 115, "x": 1.499, "z": 0.5, "k": "c"}, {"lvl": 115, "x": 1.6, "z": 0.517, "k": "c"}, {"lvl": 115, "x": 1.8, "z": 0.548, "k": "c"}, {"lvl": 115, "x": 2.0, "z": 0.578, "k": "c"},
      {"lvl": 125, "x": 0.5, "z": 0.5, "k": "p"}, {"lvl": 125, "x": 1.784, "z": 0.5, "k": "c"}, {"lvl": 125, "x": 1.9, "z": 0.516, "k": "c"}, {"lvl": 125, "x": 2.0, "z": 0.529, "k": "c"}
    ],
    "bandG": [
      {"x0": 100, "x1": 125, "k": 62.5}, {"x0": 125, "x1": 150, "k": 57.5}, {"x0": 150, "x1": 174, "k": 52.5}, {"x0": 174, "x1": 204, "k": 47.5}, {"x0": 204, "x1": 252, "k": 42.5}, {"x0": 252, "x1": 315, "k": 37.5}, {"x0": 315, "x1": 422, "k": 32.5}, {"x0": 422, "x1": 595, "k": 27.5}, {"x0": 595, "x1": 900, "k": 22.5}
    ],
    "bandH": [
      {"x0": 0.5, "x1": 0.58, "k": 16}, {"x0": 0.58, "x1": 0.72, "k": 18}, {"x0": 0.72, "x1": 0.875, "k": 20}, {"x0": 0.875, "x1": 1.045, "k": 22}, {"x0": 1.045, "x1": 1.235, "k": 24}, {"x0": 1.235, "x1": 1.44, "k": 26}, {"x0": 1.44, "x1": 1.66, "k": 28}, {"x0": 1.66, "x1": 1.89, "k": 30}, {"x0": 1.89, "x1": 2.0, "k": 32}
    ]
  },
  "resolve": {"scale": {"color": "independent", "fill": "independent", "stroke": "independent", "strokeDash": "independent", "strokeWidth": "independent"}, "legend": {"color": "independent", "fill": "independent", "stroke": "independent", "strokeDash": "independent", "strokeWidth": "independent"}},
  "spacing": 3,
  "vconcat": [
    {
      "spacing": -10,
      "resolve": {"scale": {"color": "independent", "fill": "independent", "stroke": "independent", "strokeDash": "independent", "strokeWidth": "independent"}, "legend": {"color": "independent", "fill": "independent", "stroke": "independent", "strokeDash": "independent", "strokeWidth": "independent"}},
      "hconcat": [
        {
          "width": 1, "height": 1,
          "data": {"name": "one"},
          "mark": {"type": "text"},
          "encoding": {"text": {"value": ""}}
        },
        {
          "title": {"text": "A", "anchor": "start", "fontSize": 28, "offset": -22, "color": "#222"},
          "spacing": 12,
          "vconcat": [
            {
              "spacing": 10,
              "hconcat": [
                {
                  "width": 138, "height": 140,
                  "title": {"text": "τ = 100 ms;  ζ = 0.5"},
                  "layer": [
                    {"data": {"name": "aRef"}, "mark": {"type": "line", "strokeWidth": 1.3},
                     "encoding": {
                       "x": {"field": "t", "type": "quantitative", "scale": {"type": "log", "domain": [0.6, 14000], "nice": false}, "axis": {"values": [1, 10, 100, 1000, 10000], "tickCount": 20, "labelExpr": "datum.value >= 10000 ? '10⁴' : format(datum.value, 'd')", "title": "diffusion time t [ms]"}},
                       "y": {"field": "D", "type": "quantitative", "scale": {"domain": [0.4, 1.7], "nice": false, "zero": false}, "axis": {"values": [0.4, 0.6, 0.8, 1.0, 1.2, 1.4, 1.6], "tickCount": 20, "format": ".1f", "title": "D [μm²/ms]", "grid": true, "gridColor": "#e8e8e8"}},
                       "stroke": {"field": "s", "type": "nominal", "scale": {"domain": ["D₀ = 1.5 μm²/ms; τ = 500 ms; ζ = 1", "full t range", "clinical t range"], "range": ["#9a9a9a", "#111111", "#e8231c"]}, "legend": {"title": null, "orient": "none", "legendX": -36, "legendY": 373, "direction": "horizontal", "symbolType": "M-1,0L1,0M-0.28,0A0.28,0.28,0,1,1,0.28,0A0.28,0.28,0,1,1,-0.28,0", "symbolSize": 360, "labelFontSize": 8.5, "columnPadding": 24}},
                       "strokeDash": {"field": "s", "type": "nominal", "scale": {"domain": ["D₀ = 1.5 μm²/ms; τ = 500 ms; ζ = 1", "full t range", "clinical t range"], "range": [[3, 2], [1, 0], [1, 0]]}, "legend": {"title": null, "orient": "none", "legendX": -36, "legendY": 373, "direction": "horizontal", "symbolType": "M-1,0L1,0M-0.28,0A0.28,0.28,0,1,1,0.28,0A0.28,0.28,0,1,1,-0.28,0", "symbolSize": 360, "labelFontSize": 8.5, "columnPadding": 24}}
                     }},
                    {"data": {"name": "aCurves"}, "transform": [{"filter": "datum.p == 'A1' && datum.s == 'full t range'"}], "mark": {"type": "line", "strokeWidth": 1.4},
                     "encoding": {"x": {"field": "t", "type": "quantitative"}, "y": {"field": "D", "type": "quantitative"}, "stroke": {"field": "s", "type": "nominal"}, "strokeDash": {"field": "s", "type": "nominal"}}},
                    {"data": {"name": "aCurves"}, "transform": [{"filter": "datum.p == 'A1' && datum.s == 'full t range'"}], "mark": {"type": "point", "filled": true, "size": 9, "opacity": 1},
                     "encoding": {"x": {"field": "t", "type": "quantitative"}, "y": {"field": "D", "type": "quantitative"}, "fill": {"field": "s", "type": "nominal", "scale": {"domain": ["D₀ = 1.5 μm²/ms; τ = 500 ms; ζ = 1", "full t range", "clinical t range"], "range": ["#9a9a9a", "#111111", "#e8231c"]}, "legend": {"title": null, "orient": "none", "legendX": -36, "legendY": 373, "direction": "horizontal", "symbolType": "M-1,0L1,0M-0.28,0A0.28,0.28,0,1,1,0.28,0A0.28,0.28,0,1,1,-0.28,0", "symbolSize": 360, "labelFontSize": 8.5, "columnPadding": 24}}}},
                    {"data": {"name": "aCurves"}, "transform": [{"filter": "datum.p == 'A1' && datum.s == 'clinical t range'"}], "mark": {"type": "line", "strokeWidth": 2.2},
                     "encoding": {"x": {"field": "t", "type": "quantitative"}, "y": {"field": "D", "type": "quantitative"}, "stroke": {"field": "s", "type": "nominal"}, "strokeDash": {"field": "s", "type": "nominal"}}},
                    {"data": {"name": "aCurves"}, "transform": [{"filter": "datum.p == 'A1' && datum.s == 'clinical t range'"}], "mark": {"type": "point", "filled": true, "size": 30, "opacity": 1},
                     "encoding": {"x": {"field": "t", "type": "quantitative"}, "y": {"field": "D", "type": "quantitative"}, "fill": {"field": "s", "type": "nominal"}}}
                  ]
                },
                {
                  "width": 138, "height": 140,
                  "title": {"text": "τ = 900 ms;  ζ = 0.5"},
                  "layer": [
                    {"data": {"name": "aRef"}, "mark": {"type": "line", "strokeWidth": 1.3},
                     "encoding": {
                       "x": {"field": "t", "type": "quantitative", "scale": {"type": "log", "domain": [0.6, 14000], "nice": false}, "axis": {"values": [1, 10, 100, 1000, 10000], "tickCount": 20, "labelExpr": "datum.value >= 10000 ? '10⁴' : format(datum.value, 'd')", "title": "diffusion time t [ms]"}},
                       "y": {"field": "D", "type": "quantitative", "scale": {"domain": [0.4, 1.7], "nice": false, "zero": false}, "axis": {"values": [0.4, 0.6, 0.8, 1.0, 1.2, 1.4, 1.6], "tickCount": 20, "format": ".1f", "title": "D [μm²/ms]", "grid": true, "gridColor": "#e8e8e8"}},
                       "stroke": {"field": "s", "type": "nominal"}, "strokeDash": {"field": "s", "type": "nominal"}
                     }},
                    {"data": {"name": "aCurves"}, "transform": [{"filter": "datum.p == 'A2' && datum.s == 'full t range'"}], "mark": {"type": "line", "strokeWidth": 1.4},
                     "encoding": {"x": {"field": "t", "type": "quantitative"}, "y": {"field": "D", "type": "quantitative"}, "stroke": {"field": "s", "type": "nominal"}, "strokeDash": {"field": "s", "type": "nominal"}}},
                    {"data": {"name": "aCurves"}, "transform": [{"filter": "datum.p == 'A2' && datum.s == 'full t range'"}], "mark": {"type": "point", "filled": true, "size": 9, "opacity": 1},
                     "encoding": {"x": {"field": "t", "type": "quantitative"}, "y": {"field": "D", "type": "quantitative"}, "fill": {"field": "s", "type": "nominal"}}},
                    {"data": {"name": "aCurves"}, "transform": [{"filter": "datum.p == 'A2' && datum.s == 'clinical t range'"}], "mark": {"type": "line", "strokeWidth": 2.2},
                     "encoding": {"x": {"field": "t", "type": "quantitative"}, "y": {"field": "D", "type": "quantitative"}, "stroke": {"field": "s", "type": "nominal"}, "strokeDash": {"field": "s", "type": "nominal"}}},
                    {"data": {"name": "aCurves"}, "transform": [{"filter": "datum.p == 'A2' && datum.s == 'clinical t range'"}], "mark": {"type": "point", "filled": true, "size": 30, "opacity": 1},
                     "encoding": {"x": {"field": "t", "type": "quantitative"}, "y": {"field": "D", "type": "quantitative"}, "fill": {"field": "s", "type": "nominal"}}}
                  ]
                }
              ]
            },
            {
              "spacing": 10,
              "hconcat": [
                {
                  "width": 138, "height": 140,
                  "title": {"text": "τ = 100 ms;  ζ = 2."},
                  "layer": [
                    {"data": {"name": "aRef"}, "mark": {"type": "line", "strokeWidth": 1.3},
                     "encoding": {
                       "x": {"field": "t", "type": "quantitative", "scale": {"type": "log", "domain": [0.6, 14000], "nice": false}, "axis": {"values": [1, 10, 100, 1000, 10000], "tickCount": 20, "labelExpr": "datum.value >= 10000 ? '10⁴' : format(datum.value, 'd')", "title": "diffusion time t [ms]"}},
                       "y": {"field": "D", "type": "quantitative", "scale": {"domain": [0.4, 1.7], "nice": false, "zero": false}, "axis": {"values": [0.4, 0.6, 0.8, 1.0, 1.2, 1.4, 1.6], "tickCount": 20, "format": ".1f", "title": "D [μm²/ms]", "grid": true, "gridColor": "#e8e8e8"}},
                       "stroke": {"field": "s", "type": "nominal"}, "strokeDash": {"field": "s", "type": "nominal"}
                     }},
                    {"data": {"name": "aCurves"}, "transform": [{"filter": "datum.p == 'A3' && datum.s == 'full t range'"}], "mark": {"type": "line", "strokeWidth": 1.4},
                     "encoding": {"x": {"field": "t", "type": "quantitative"}, "y": {"field": "D", "type": "quantitative"}, "stroke": {"field": "s", "type": "nominal"}, "strokeDash": {"field": "s", "type": "nominal"}}},
                    {"data": {"name": "aCurves"}, "transform": [{"filter": "datum.p == 'A3' && datum.s == 'full t range'"}], "mark": {"type": "point", "filled": true, "size": 9, "opacity": 1},
                     "encoding": {"x": {"field": "t", "type": "quantitative"}, "y": {"field": "D", "type": "quantitative"}, "fill": {"field": "s", "type": "nominal"}}},
                    {"data": {"name": "aCurves"}, "transform": [{"filter": "datum.p == 'A3' && datum.s == 'clinical t range'"}], "mark": {"type": "line", "strokeWidth": 2.2},
                     "encoding": {"x": {"field": "t", "type": "quantitative"}, "y": {"field": "D", "type": "quantitative"}, "stroke": {"field": "s", "type": "nominal"}, "strokeDash": {"field": "s", "type": "nominal"}}},
                    {"data": {"name": "aCurves"}, "transform": [{"filter": "datum.p == 'A3' && datum.s == 'clinical t range'"}], "mark": {"type": "point", "filled": true, "size": 30, "opacity": 1},
                     "encoding": {"x": {"field": "t", "type": "quantitative"}, "y": {"field": "D", "type": "quantitative"}, "fill": {"field": "s", "type": "nominal"}}}
                  ]
                },
                {
                  "width": 138, "height": 140,
                  "title": {"text": "τ = 900 ms;  ζ = 2."},
                  "layer": [
                    {"data": {"name": "aRef"}, "mark": {"type": "line", "strokeWidth": 1.3},
                     "encoding": {
                       "x": {"field": "t", "type": "quantitative", "scale": {"type": "log", "domain": [0.6, 14000], "nice": false}, "axis": {"values": [1, 10, 100, 1000, 10000], "tickCount": 20, "labelExpr": "datum.value >= 10000 ? '10⁴' : format(datum.value, 'd')", "title": "diffusion time t [ms]"}},
                       "y": {"field": "D", "type": "quantitative", "scale": {"domain": [0.4, 1.7], "nice": false, "zero": false}, "axis": {"values": [0.4, 0.6, 0.8, 1.0, 1.2, 1.4, 1.6], "tickCount": 20, "format": ".1f", "title": "D [μm²/ms]", "grid": true, "gridColor": "#e8e8e8"}},
                       "stroke": {"field": "s", "type": "nominal"}, "strokeDash": {"field": "s", "type": "nominal"}
                     }},
                    {"data": {"name": "aCurves"}, "transform": [{"filter": "datum.p == 'A4' && datum.s == 'full t range'"}], "mark": {"type": "line", "strokeWidth": 1.4},
                     "encoding": {"x": {"field": "t", "type": "quantitative"}, "y": {"field": "D", "type": "quantitative"}, "stroke": {"field": "s", "type": "nominal"}, "strokeDash": {"field": "s", "type": "nominal"}}},
                    {"data": {"name": "aCurves"}, "transform": [{"filter": "datum.p == 'A4' && datum.s == 'full t range'"}], "mark": {"type": "point", "filled": true, "size": 9, "opacity": 1},
                     "encoding": {"x": {"field": "t", "type": "quantitative"}, "y": {"field": "D", "type": "quantitative"}, "fill": {"field": "s", "type": "nominal"}}},
                    {"data": {"name": "aCurves"}, "transform": [{"filter": "datum.p == 'A4' && datum.s == 'clinical t range'"}], "mark": {"type": "line", "strokeWidth": 2.2},
                     "encoding": {"x": {"field": "t", "type": "quantitative"}, "y": {"field": "D", "type": "quantitative"}, "stroke": {"field": "s", "type": "nominal"}, "strokeDash": {"field": "s", "type": "nominal"}}},
                    {"data": {"name": "aCurves"}, "transform": [{"filter": "datum.p == 'A4' && datum.s == 'clinical t range'"}], "mark": {"type": "point", "filled": true, "size": 30, "opacity": 1},
                     "encoding": {"x": {"field": "t", "type": "quantitative"}, "y": {"field": "D", "type": "quantitative"}, "fill": {"field": "s", "type": "nominal"}}}
                  ]
                }
              ]
            }
          ]
        },
        {
          "width": 37, "height": 400,
          "data": {"name": "one"},
          "mark": {"type": "rule", "strokeDash": [2.5, 2.5], "strokeWidth": 1.6, "color": "#222", "clip": false},
          "encoding": {
            "x": {"datum": 0.135, "type": "quantitative", "scale": {"domain": [-1, 1]}, "axis": null},
            "y": {"datum": 1.0825, "type": "quantitative", "scale": {"domain": [0, 1]}, "axis": null},
            "y2": {"datum": -0.055}
          }
        },
        {
          "title": {"text": "B", "anchor": "start", "fontSize": 28, "offset": -20, "dx": 2, "color": "#222"},
          "spacing": 12,
          "resolve": {"scale": {"stroke": "independent", "strokeDash": "independent", "strokeWidth": "independent"}, "legend": {"stroke": "independent", "strokeDash": "independent", "strokeWidth": "independent"}},
          "vconcat": [
            {
              "width": 143, "height": 140,
              "title": {"text": "changing τ; fixed ζ"},
              "data": {"name": "bLines"},
              "transform": [{"filter": "datum.p == 'B1'"}],
              "mark": {"type": "line", "clip": true},
              "encoding": {
                "x": {"field": "t", "type": "quantitative", "scale": {"type": "log", "domain": [4.5, 1800], "nice": false}, "axis": {"values": [10, 100, 1000], "tickCount": 20, "labelExpr": "format(datum.value, 'd')", "title": "diffusion time t [ms]"}},
                "y": {"field": "D", "type": "quantitative", "scale": {"domain": [0.4, 1.7], "nice": false, "zero": false}, "axis": {"values": [0.4, 0.6, 0.8, 1.0, 1.2, 1.4, 1.6], "tickCount": 20, "format": ".1f", "title": "D [μm²/ms]", "titlePadding": 12, "grid": true, "gridColor": "#e8e8e8"}},
                "detail": {"field": "id"},
                "stroke": {"field": "s", "type": "nominal", "scale": {"domain": ["ζ = 0.5; Changing τ", "ζ = 2.0; Changing τ", "ζ = 0.5; τ = 100 ms", "ζ = 0.5; τ = 900 ms", "ζ = 2.0; τ = 100 ms", "ζ = 2.0; τ = 900 ms", "D₀ = 1.5 mm²/s"], "range": ["#f3b5b2", "#c6c6f0", "#e8392f", "#e8392f", "#3d3de0", "#3d3de0", "#444444"]}, "legend": {"title": " ", "titlePadding": 10, "orient": "right", "symbolType": "M-1.7,0L1.7,0", "symbolSize": 256, "labelFontSize": 9, "labelOffset": 11, "labelLimit": 200, "rowPadding": 1, "offset": 12}},
                "strokeDash": {"field": "s", "type": "nominal", "scale": {"domain": ["ζ = 0.5; Changing τ", "ζ = 2.0; Changing τ", "ζ = 0.5; τ = 100 ms", "ζ = 0.5; τ = 900 ms", "ζ = 2.0; τ = 100 ms", "ζ = 2.0; τ = 900 ms", "D₀ = 1.5 mm²/s"], "range": [[1, 0], [1, 0], [1, 0], [4, 3], [1, 0], [4, 3], [3, 3]]}, "legend": {"title": " ", "titlePadding": 10, "orient": "right", "symbolType": "M-1.7,0L1.7,0", "symbolSize": 256, "labelFontSize": 9, "labelOffset": 11, "labelLimit": 200, "rowPadding": 1, "offset": 12}},
                "strokeWidth": {"field": "s", "type": "nominal", "scale": {"type": "ordinal", "domain": ["ζ = 0.5; Changing τ", "ζ = 2.0; Changing τ", "ζ = 0.5; τ = 100 ms", "ζ = 0.5; τ = 900 ms", "ζ = 2.0; τ = 100 ms", "ζ = 2.0; τ = 900 ms", "D₀ = 1.5 mm²/s"], "range": [0.8, 0.8, 1.5, 1.5, 1.5, 1.5, 1.1]}, "legend": {"title": " ", "titlePadding": 10, "orient": "right", "symbolType": "M-1.7,0L1.7,0", "symbolSize": 256, "labelFontSize": 9, "labelOffset": 11, "labelLimit": 200, "rowPadding": 1, "offset": 12}}
              }
            },
            {
              "width": 143, "height": 140,
              "title": {"text": "changing ζ; fixed τ"},
              "data": {"name": "bLines"},
              "transform": [{"filter": "datum.p == 'B2'"}],
              "mark": {"type": "line", "clip": true},
              "encoding": {
                "x": {"field": "t", "type": "quantitative", "scale": {"type": "log", "domain": [4.5, 1800], "nice": false}, "axis": {"values": [10, 100, 1000], "tickCount": 20, "labelExpr": "format(datum.value, 'd')", "title": "diffusion time t [ms]"}},
                "y": {"field": "D", "type": "quantitative", "scale": {"domain": [0.4, 1.7], "nice": false, "zero": false}, "axis": {"values": [0.4, 0.6, 0.8, 1.0, 1.2, 1.4, 1.6], "tickCount": 20, "format": ".1f", "title": "D [μm²/ms]", "titlePadding": 12, "grid": true, "gridColor": "#e8e8e8"}},
                "detail": {"field": "id"},
                "stroke": {"field": "s", "type": "nominal", "scale": {"domain": ["τ = 100 ms; Changing ζ", "τ = 900 ms; Changing ζ", "τ = 100 ms;  ζ = 0.5", "τ = 100 ms;  ζ = 2.0", "τ = 900 ms;  ζ = 0.5", "τ = 900 ms;  ζ = 2.0", "D₀ = 1.5 mm²/s"], "range": ["#f3b5b2", "#c6c6f0", "#e8392f", "#e8392f", "#3d3de0", "#3d3de0", "#444444"]}, "legend": {"title": " ", "titlePadding": 10, "orient": "right", "symbolType": "M-1.35,0L1.35,0", "symbolSize": 144, "labelFontSize": 8.5, "labelOffset": 6, "labelLimit": 200, "rowPadding": 4, "offset": 6}},
                "strokeDash": {"field": "s", "type": "nominal", "scale": {"domain": ["τ = 100 ms; Changing ζ", "τ = 900 ms; Changing ζ", "τ = 100 ms;  ζ = 0.5", "τ = 100 ms;  ζ = 2.0", "τ = 900 ms;  ζ = 0.5", "τ = 900 ms;  ζ = 2.0", "D₀ = 1.5 mm²/s"], "range": [[1, 0], [1, 0], [4, 3], [1, 0], [4, 3], [1, 0], [3, 3]]}, "legend": {"title": " ", "titlePadding": 10, "orient": "right", "symbolType": "M-1.35,0L1.35,0", "symbolSize": 144, "labelFontSize": 8.5, "labelOffset": 6, "labelLimit": 200, "rowPadding": 4, "offset": 6}},
                "strokeWidth": {"field": "s", "type": "nominal", "scale": {"type": "ordinal", "domain": ["τ = 100 ms; Changing ζ", "τ = 900 ms; Changing ζ", "τ = 100 ms;  ζ = 0.5", "τ = 100 ms;  ζ = 2.0", "τ = 900 ms;  ζ = 0.5", "τ = 900 ms;  ζ = 2.0", "D₀ = 1.5 mm²/s"], "range": [0.8, 0.8, 1.5, 1.5, 1.5, 1.5, 1.1]}, "legend": {"title": " ", "titlePadding": 10, "orient": "right", "symbolType": "M-1.35,0L1.35,0", "symbolSize": 144, "labelFontSize": 8.5, "labelOffset": 6, "labelLimit": 200, "rowPadding": 4, "offset": 6}}
              }
            }
          ]
        }
      ]
    },
    {
      "width": 700, "height": 20,
      "data": {"name": "one"},
      "mark": {"type": "rule", "strokeDash": [2.5, 2.5], "strokeWidth": 1.6, "color": "#222"},
      "encoding": {"y": {"datum": 0.8, "type": "quantitative", "scale": {"domain": [0, 1]}, "axis": null}}
    },
    {
      "spacing": 20,
      "resolve": {"scale": {"color": "independent"}, "legend": {"color": "independent"}},
      "hconcat": [
        {
          "spacing": 22,
          "vconcat": [
            {
              "title": {"text": "C", "anchor": "start", "fontSize": 28, "offset": -6, "dx": -12, "color": "#222"},
              "vconcat": [
                {
                  "width": 178, "height": 158,
                  "title": {"text": "cell diameter a [μm]", "fontSize": 12.5},
                  "view": {"stroke": "#222", "strokeWidth": 1.5},
                  "data": {"name": "hC"},
                  "mark": {"type": "rect", "color": "black"},
                  "encoding": {
                    "x": {"field": "x0", "type": "quantitative", "scale": {"domain": [-3, 151], "nice": false, "zero": false}, "axis": {"values": [0, 20, 40, 60, 80, 100, 120, 140], "tickCount": 20, "title": null, "domain": false}},
                    "x2": {"field": "x1"},
                    "y": {"field": "n", "type": "quantitative", "scale": {"domain": [0, 475], "nice": false}, "axis": null},
                    "y2": {"datum": 0}
                  }
                }
              ]
            },
            {
              "title": {"text": "D", "anchor": "start", "fontSize": 28, "offset": -8, "dx": -12, "color": "#222"},
              "vconcat": [
                {
                  "width": 178, "height": 160,
                  "title": {"text": "permeability κ [μm/s]", "fontSize": 12.5},
                  "view": {"stroke": "#222", "strokeWidth": 1.5},
                  "data": {"name": "hD"},
                  "mark": {"type": "rect", "color": "black"},
                  "encoding": {
                    "x": {"field": "x0", "type": "quantitative", "scale": {"domain": [13.6, 59.6], "nice": false, "zero": false}, "axis": {"values": [20, 30, 40, 50], "tickCount": 20, "title": null, "domain": false}},
                    "x2": {"field": "x1"},
                    "y": {"field": "n", "type": "quantitative", "scale": {"domain": [0, 485], "nice": false}, "axis": null},
                    "y2": {"datum": 0}
                  }
                }
              ]
            }
          ]
        },
        {
          "spacing": 24,
          "resolve": {"scale": {"color": "independent"}, "legend": {"color": "independent"}},
          "vconcat": [
            {
              "title": {"text": "E", "anchor": "start", "fontSize": 28, "offset": -25, "dx": 15, "color": "#222"},
              "vconcat": [
                {
                  "width": 158, "height": 156,
                  "title": {"text": ["cell diameter a", "D₀:1.5 [μm²/ms]"], "fontSize": 12, "lineHeight": 15},
                  "view": {"stroke": "#222", "strokeWidth": 2},
                  "data": {"name": "cE"},
                  "layer": [
                    {"mark": {"type": "area", "interpolate": "monotone"},
                     "encoding": {
                       "x": {"field": "x", "type": "quantitative", "scale": {"domain": [88, 912], "nice": false, "zero": false}, "axis": {"values": [200, 400, 600, 800], "tickCount": 20, "title": "τ [ms]"}},
                       "y": {"field": "z", "type": "quantitative", "stack": null, "scale": {"domain": [0.478, 2.022], "nice": false, "zero": false}, "axis": {"values": [0.6, 0.8, 1.0, 1.2, 1.4, 1.6, 1.8, 2.0], "tickCount": 20, "format": ".1f", "title": "ζ"}},
                       "y2": {"datum": 0.5},
                       "detail": {"field": "lvl"},
                       "color": {"field": "lvl", "type": "quantitative", "scale": {"type": "quantize", "domain": [10, 150], "range": ["#1d1c10", "#2d2016", "#40241b", "#552a22", "#6d302b", "#883735", "#a6413f", "#c14d4a", "#d65d50", "#e27752", "#ea9250", "#f1b054", "#f6d26e", "#fcf3bf"]}, "legend": {"type": "gradient", "title": "μm", "titleFontStyle": "italic", "titleFontWeight": "normal", "titleFontSize": 10, "titlePadding": 8, "gradientLength": 162, "gradientThickness": 12, "labelFontSize": 11, "format": "d", "labelExpr": "round(datum.value) % 30 == 20 ? datum.label : ''", "offset": 9}}
                     }},
                    {"transform": [{"filter": "datum.k == 'c'"}], "mark": {"type": "line", "interpolate": "monotone", "stroke": "#111", "strokeWidth": 0.6, "opacity": 0.7},
                     "encoding": {"x": {"field": "x", "type": "quantitative"}, "y": {"field": "z", "type": "quantitative"}, "detail": {"field": "lvl"}}}
                  ]
                }
              ]
            },
            {
              "title": {"text": "F", "anchor": "start", "fontSize": 28, "offset": -22, "dx": 15, "color": "#222"},
              "vconcat": [
                {
                  "width": 158, "height": 156,
                  "title": {"text": ["cell diameter a", "τ = 500 [ms]"], "fontSize": 12, "lineHeight": 15},
                  "view": {"stroke": "#222", "strokeWidth": 2},
                  "data": {"name": "cF"},
                  "layer": [
                    {"mark": {"type": "area", "interpolate": "monotone"},
                     "encoding": {
                       "x": {"field": "x", "type": "quantitative", "scale": {"domain": [0.478, 2.022], "nice": false, "zero": false}, "axis": {"values": [0.6, 0.8, 1.0, 1.2, 1.4, 1.6, 1.8, 2.0], "tickCount": 20, "format": ".1f", "title": "D₀ [μm²/ms]"}},
                       "y": {"field": "z", "type": "quantitative", "stack": null, "scale": {"domain": [0.478, 2.022], "nice": false, "zero": false}, "axis": {"values": [0.6, 0.8, 1.0, 1.2, 1.4, 1.6, 1.8, 2.0], "tickCount": 20, "format": ".1f", "title": "ζ"}},
                       "y2": {"datum": 0.5},
                       "detail": {"field": "lvl"},
                       "color": {"field": "lvl", "type": "quantitative", "scale": {"type": "quantize", "domain": [10, 130], "range": ["#1d1c10", "#2f2117", "#462720", "#62302a", "#833835", "#a8443f", "#c9524b", "#dd6a50", "#e88b4d", "#f0ac52", "#f6d36f", "#fcf3bf"]}, "legend": {"type": "gradient", "title": "μm", "titleFontStyle": "italic", "titleFontWeight": "normal", "titleFontSize": 10, "titlePadding": 8, "gradientLength": 162, "gradientThickness": 12, "labelFontSize": 11, "format": "d", "labelExpr": "round(datum.value) % 20 == 0 && round(datum.value) < 130 ? datum.label : ''", "offset": 7}}
                     }},
                    {"transform": [{"filter": "datum.k == 'c'"}], "mark": {"type": "line", "interpolate": "monotone", "stroke": "#111", "strokeWidth": 0.6, "opacity": 0.7},
                     "encoding": {"x": {"field": "x", "type": "quantitative"}, "y": {"field": "z", "type": "quantitative"}, "detail": {"field": "lvl"}}}
                  ]
                }
              ]
            }
          ]
        },
        {
          "spacing": 24,
          "resolve": {"scale": {"color": "independent"}, "legend": {"color": "independent"}},
          "vconcat": [
            {
              "title": {"text": "G", "anchor": "start", "fontSize": 28, "offset": -25, "dx": 16, "color": "#222"},
              "vconcat": [
                {
                  "width": 158, "height": 156,
                  "title": {"text": ["permeability κ", "D₀:1.5 [μm²/ms]"], "fontSize": 12, "lineHeight": 15},
                  "view": {"stroke": "#222", "strokeWidth": 2},
                  "data": {"name": "bandG"},
                  "layer": [
                    {"mark": {"type": "rect"},
                     "encoding": {
                       "x": {"field": "x0", "type": "quantitative", "scale": {"domain": [88, 912], "nice": false, "zero": false}, "axis": {"values": [200, 400, 600, 800], "tickCount": 20, "title": "τ [ms]"}},
                       "x2": {"field": "x1"},
                       "y": {"datum": 0.5, "type": "quantitative", "scale": {"domain": [0.478, 2.022], "nice": false, "zero": false}, "axis": {"values": [0.6, 0.8, 1.0, 1.2, 1.4, 1.6, 1.8, 2.0], "tickCount": 20, "format": ".1f", "title": "ζ"}},
                       "y2": {"datum": 2.0},
                       "color": {"field": "k", "type": "quantitative", "scale": {"type": "quantize", "domain": [20, 65], "range": ["#0e2340", "#25476f", "#55597e", "#835a75", "#aa5a63", "#d8645a", "#e98f6f", "#e3c29b", "#f6edd8"]}, "legend": {"type": "gradient", "title": "μm/s", "titleFontStyle": "italic", "titleFontWeight": "normal", "titleFontSize": 10, "titlePadding": 8, "gradientLength": 162, "gradientThickness": 11, "labelFontSize": 10.5, "labelOffset": 3, "format": "d", "labelExpr": "datum.value > 22 && datum.value < 63 ? datum.label : ''", "offset": 7}}
                     }},
                    {"transform": [{"filter": "datum.x0 > 100"}], "mark": {"type": "rule", "stroke": "#333", "strokeWidth": 0.6, "opacity": 0.6},
                     "encoding": {"x": {"field": "x0", "type": "quantitative"}, "y": {"datum": 0.5, "type": "quantitative"}, "y2": {"datum": 2.0}}}
                  ]
                }
              ]
            },
            {
              "title": {"text": "H", "anchor": "start", "fontSize": 28, "offset": -22, "dx": 16, "color": "#222"},
              "vconcat": [
                {
                  "width": 158, "height": 156,
                  "title": {"text": ["permeability κ", "τ = 500 [ms]"], "fontSize": 12, "lineHeight": 15},
                  "view": {"stroke": "#222", "strokeWidth": 2},
                  "data": {"name": "bandH"},
                  "layer": [
                    {"mark": {"type": "rect"},
                     "encoding": {
                       "x": {"field": "x0", "type": "quantitative", "scale": {"domain": [0.478, 2.022], "nice": false, "zero": false}, "axis": {"values": [0.6, 0.8, 1.0, 1.2, 1.4, 1.6, 1.8, 2.0], "tickCount": 20, "format": ".1f", "title": "D₀ [μm²/ms]"}},
                       "x2": {"field": "x1"},
                       "y": {"datum": 0.5, "type": "quantitative", "scale": {"domain": [0.478, 2.022], "nice": false, "zero": false}, "axis": {"values": [0.6, 0.8, 1.0, 1.2, 1.4, 1.6, 1.8, 2.0], "tickCount": 20, "format": ".1f", "title": "ζ"}},
                       "y2": {"datum": 2.0},
                       "color": {"field": "k", "type": "quantitative", "scale": {"type": "quantize", "domain": [15, 33], "range": ["#0e2340", "#25476f", "#55597e", "#835a75", "#aa5a63", "#d8645a", "#e98f6f", "#e3c29b", "#f6edd8"]}, "legend": {"type": "gradient", "title": "μm/s", "titleFontStyle": "italic", "titleFontWeight": "normal", "titleFontSize": 10, "titlePadding": 8, "gradientLength": 162, "gradientThickness": 11, "labelFontSize": 10.5, "labelOffset": 3, "format": "d", "labelExpr": "datum.value > 16 && datum.value < 32 ? datum.label : ''", "offset": 3}}
                     }},
                    {"transform": [{"filter": "datum.x0 > 0.5"}], "mark": {"type": "rule", "stroke": "#333", "strokeWidth": 0.6, "opacity": 0.6},
                     "encoding": {"x": {"field": "x0", "type": "quantitative"}, "y": {"datum": 0.5, "type": "quantitative"}, "y2": {"datum": 2.0}}}
                  ]
                }
              ]
            }
          ]
        }
      ]
    }
  ]
}
